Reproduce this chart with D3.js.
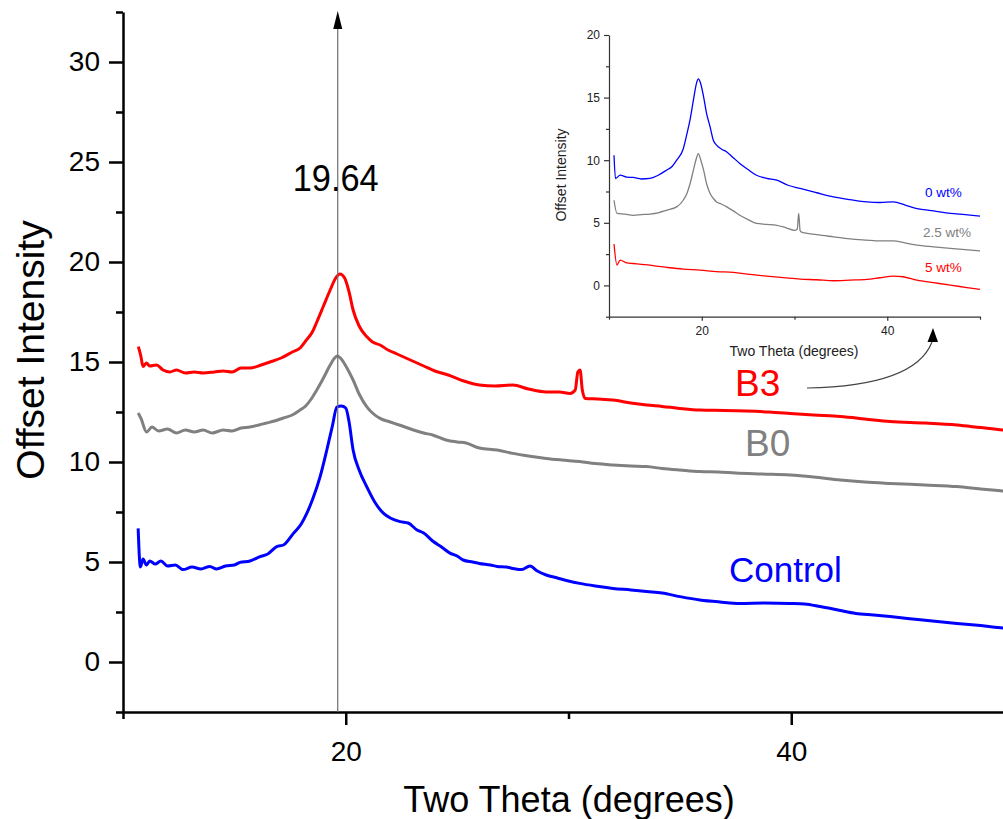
<!DOCTYPE html>
<html>
<head>
<meta charset="utf-8">
<script src="https://cdn.jsdelivr.net/npm/d3@7"></script>
<style>
  html, body { margin: 0; padding: 0; background: #ffffff; }
  svg { display: block; }
  text { font-family: "Liberation Sans", Arial, sans-serif; }
</style>
</head>
<body>
<svg id="chart" width="1003" height="819"></svg>
<script>
// ---------------- DATA ----------------
// Main plot: [two theta (deg), offset intensity]
const controlData = [[10.68,6.68],[10.78,4.75],[10.9,5.15],[11.05,4.85],[11.2,5.05],[11.45,4.9],[11.7,5.05],[12.0,4.8],[12.35,4.85],[12.7,4.62],[13.1,4.75],[13.5,4.65],[13.9,4.78],[14.2,4.65],[14.6,4.8],[15.0,4.85],[15.25,4.98],[15.7,5.05],[16.15,5.27],[16.5,5.4],[16.9,5.77],[17.2,5.85],[17.65,6.43],[18.0,6.9],[18.25,7.43],[18.5,8.1],[18.85,9.27],[19.15,10.6],[19.4,11.8],[19.6,12.75],[19.8,12.8],[20.0,12.7],[20.15,12.0],[20.33,10.6],[20.6,9.6],[20.94,8.77],[21.3,8.0],[21.7,7.43],[22.0,7.2],[22.44,7.02],[22.8,6.95],[23.2,6.6],[23.5,6.45],[23.9,6.05],[24.3,5.75],[24.7,5.43],[25.0,5.3],[25.27,5.1],[25.7,5.0],[26.0,4.93],[26.5,4.85],[26.8,4.78],[27.2,4.75],[27.5,4.68],[27.9,4.62],[28.27,4.8],[28.6,4.55],[29.0,4.35],[29.5,4.2],[30.0,4.05],[30.5,3.93],[31.2,3.8],[32.0,3.68],[32.8,3.6],[33.5,3.52],[34.2,3.45],[35.0,3.27],[35.9,3.1],[36.8,3.0],[37.7,2.93],[38.8,2.95],[39.95,2.93],[40.6,2.9],[41.3,2.77],[42.1,2.6],[42.9,2.43],[43.7,2.35],[44.44,2.27],[45.9,2.1],[47.44,1.93],[48.5,1.82],[49.5,1.7],[50.0,1.65]];
const b0Data = [[10.68,12.45],[10.8,12.2],[11.06,11.5],[11.3,11.75],[11.6,11.55],[12.0,11.65],[12.4,11.45],[12.8,11.6],[13.2,11.5],[13.6,11.6],[14.0,11.45],[14.5,11.6],[14.9,11.55],[15.3,11.7],[15.7,11.75],[16.1,11.85],[16.45,11.95],[16.8,12.05],[17.2,12.2],[17.6,12.35],[17.95,12.6],[18.2,12.8],[18.45,13.15],[18.7,13.6],[19.0,14.2],[19.3,14.85],[19.5,15.2],[19.62,15.3],[19.8,15.15],[19.95,14.9],[20.15,14.5],[20.33,14.1],[20.6,13.4],[20.94,12.77],[21.2,12.45],[21.54,12.18],[22.0,12.0],[22.4,11.85],[23.04,11.6],[23.5,11.45],[23.9,11.35],[24.5,11.1],[25.0,11.0],[25.4,10.95],[26.0,10.7],[26.8,10.6],[27.5,10.43],[28.2,10.3],[29.0,10.18],[29.7,10.1],[30.5,10.02],[31.2,9.92],[32.0,9.85],[32.8,9.8],[33.5,9.77],[34.2,9.68],[35.0,9.6],[35.9,9.52],[36.7,9.5],[37.5,9.45],[38.7,9.4],[39.95,9.35],[41.0,9.25],[42.2,9.1],[43.3,9.0],[44.44,8.93],[46.0,8.85],[47.44,8.77],[48.5,8.65],[49.5,8.55],[50.0,8.5]];
const b3Data = [[10.69,15.77],[10.8,15.3],[10.9,14.77],[11.05,14.95],[11.2,14.8],[11.5,14.85],[11.8,14.6],[12.1,14.5],[12.4,14.6],[12.8,14.45],[13.2,14.5],[13.6,14.45],[14.1,14.5],[14.5,14.55],[14.9,14.5],[15.3,14.7],[15.7,14.7],[16.2,14.85],[16.6,15.0],[17.1,15.2],[17.6,15.5],[17.95,15.7],[18.2,16.05],[18.5,16.5],[18.7,17.0],[19.0,17.8],[19.3,18.6],[19.55,19.2],[19.74,19.4],[19.95,19.2],[20.15,18.5],[20.33,17.6],[20.6,16.8],[20.94,16.27],[21.2,16.0],[21.54,15.85],[21.9,15.6],[22.3,15.4],[22.7,15.2],[23.1,15.0],[23.5,14.8],[24.0,14.55],[24.6,14.35],[25.3,14.05],[26.0,13.85],[26.7,13.8],[27.5,13.85],[28.2,13.65],[29.0,13.5],[29.6,13.5],[30.07,13.43],[30.3,13.6],[30.42,14.5],[30.52,14.6],[30.62,13.6],[30.75,13.18],[31.3,13.15],[32.0,13.1],[32.8,12.95],[33.5,12.85],[34.2,12.78],[35.0,12.68],[35.9,12.6],[37.0,12.58],[38.0,12.55],[39.0,12.5],[39.95,12.43],[41.0,12.35],[42.2,12.27],[43.3,12.15],[44.44,12.02],[46.0,11.95],[47.44,11.85],[48.5,11.72],[49.5,11.6],[50.0,11.55]];

// Inset: [two theta (deg), offset intensity]
const inset0Data = [[10.54,10.4],[10.7,8.54],[11.2,8.8],[11.9,8.65],[12.6,8.62],[13.5,8.5],[14.4,8.54],[15.3,8.8],[16.2,9.2],[16.8,9.5],[17.3,10.0],[18.0,10.9],[18.4,12.1],[18.73,13.2],[19.1,14.8],[19.45,16.2],[19.63,16.5],[19.85,16.2],[20.2,15.05],[20.53,13.7],[20.9,12.66],[21.25,11.6],[21.6,11.2],[22.1,10.9],[22.7,10.66],[23.4,10.2],[24.1,9.74],[25.0,9.25],[25.9,8.8],[27.0,8.55],[28.1,8.4],[29.3,8.0],[30.6,7.74],[32.4,7.4],[34.2,7.07],[36.0,6.85],[37.8,6.67],[39.2,6.62],[40.65,6.67],[42.0,6.4],[43.2,6.14],[45.0,5.95],[46.8,5.75],[48.4,5.65],[50.0,5.53]];
const inset25Data = [[10.54,6.8],[10.86,5.75],[11.7,5.7],[12.6,5.6],[13.5,5.65],[14.4,5.7],[15.3,5.8],[16.2,6.0],[17.3,6.27],[18.0,6.8],[18.4,7.34],[18.73,8.1],[19.1,9.2],[19.4,10.1],[19.63,10.53],[19.9,10.0],[20.2,9.2],[20.53,8.1],[20.9,7.34],[21.25,6.94],[21.6,6.67],[22.1,6.5],[22.7,6.27],[23.4,5.95],[24.1,5.6],[25.0,5.25],[25.9,4.95],[27.0,4.88],[28.1,4.8],[29.1,4.6],[30.05,4.4],[30.3,4.5],[30.45,5.75],[30.6,4.4],[30.7,4.28],[32.4,4.05],[34.2,3.88],[36.0,3.72],[37.8,3.62],[39.2,3.55],[40.65,3.56],[42.0,3.38],[43.2,3.22],[45.0,3.08],[46.8,2.95],[48.4,2.85],[50.0,2.76]];
const inset5Data = [[10.54,3.3],[10.86,1.62],[11.2,2.02],[11.9,1.8],[12.6,1.75],[13.5,1.68],[14.4,1.62],[15.3,1.52],[16.2,1.44],[18.0,1.3],[19.8,1.22],[21.6,1.1],[23.4,1.04],[25.2,0.88],[27.0,0.74],[28.8,0.62],[30.6,0.5],[32.4,0.45],[34.2,0.37],[36.0,0.42],[37.8,0.48],[39.2,0.61],[40.65,0.74],[41.7,0.69],[43.2,0.42],[45.0,0.22],[46.8,0.02],[48.4,-0.15],[50.0,-0.32]];

const mainXTicks = [20, 40];
const mainXMinor = [10, 30, 50];
const mainYTicks = [0, 5, 10, 15, 20, 25, 30];
const mainYMinor = [-2.5, 2.5, 7.5, 12.5, 17.5, 22.5, 27.5, 32.5];
const insetXTicks = [20, 40];
const insetXMinor = [10, 30, 50];
const insetYTicks = [0, 5, 10, 15, 20];
const insetYMinor = [-2.5, 2.5, 7.5, 12.5, 17.5];
const peakPosition = 19.64;
const peakLabel = "19.64";
const mainLabels = ["B3", "B0", "Control"];
const insetLabels = ["0 wt%", "2.5 wt%", "5 wt%"];
const xTitle = "Two Theta (degrees)";
const yTitle = "Offset Intensity";

// ---------------- DRAWING ----------------
const svg = d3.select("#chart");
const RED = "#ff0000", GRAY = "#808080", BLUE = "#0000ff";
const FONT = "'Liberation Sans', Arial, sans-serif";

// main scales
const x = d3.scaleLinear().domain([10, 50]).range([123, 1014]);
const y = d3.scaleLinear().domain([-2.5, 32.5]).range([712, 12]);

svg.append("defs").append("clipPath").attr("id", "mainClip")
  .append("rect").attr("x", 123).attr("y", 0).attr("width", 900).attr("height", 712);

const line = d3.line().x(d => x(d[0])).y(d => y(d[1])).curve(d3.curveMonotoneX);
const plot = svg.append("g").attr("clip-path", "url(#mainClip)");
[[b3Data, RED], [b0Data, GRAY], [controlData, BLUE]].forEach(([data, c]) => {
  plot.append("path").datum(data).attr("d", line)
    .attr("fill", "none").attr("stroke", c).attr("stroke-width", 3)
    .attr("stroke-linejoin", "round");
});

// axes
function styleAxis(g, w) {
  g.select(".domain").attr("stroke", "#000").attr("stroke-width", w);
  g.selectAll(".tick line").attr("stroke", "#000").attr("stroke-width", w);
}
const yMajor = svg.append("g").attr("transform", "translate(123,0)")
  .call(d3.axisLeft(y).tickValues(mainYTicks).tickSize(14).tickPadding(9).tickSizeOuter(0));
styleAxis(yMajor, 2.5);
yMajor.selectAll("text").attr("font-size", 28).attr("fill", "#000").attr("font-family", FONT);
const yMin = svg.append("g").attr("transform", "translate(123,0)")
  .call(d3.axisLeft(y).tickValues(mainYMinor).tickSize(7).tickFormat("").tickSizeOuter(0));
styleAxis(yMin, 2.5);
yMin.select(".domain").remove();

const xMajor = svg.append("g").attr("transform", "translate(0,712)")
  .call(d3.axisBottom(x).tickValues(mainXTicks).tickSize(13).tickPadding(16).tickSizeOuter(0));
styleAxis(xMajor, 2.5);
xMajor.selectAll("text").attr("font-size", 28).attr("fill", "#000").attr("font-family", FONT);
const xMin = svg.append("g").attr("transform", "translate(0,712)")
  .call(d3.axisBottom(x).tickValues(mainXMinor).tickSize(7).tickFormat("").tickSizeOuter(0));
styleAxis(xMin, 2.5);
xMin.select(".domain").remove();

// axis titles
svg.append("text").attr("x", 569).attr("y", 812).attr("text-anchor", "middle")
  .attr("font-size", 36).attr("fill", "#000").text(xTitle);
svg.append("text").attr("transform", "translate(44,350) rotate(-90)").attr("text-anchor", "middle")
  .attr("font-size", 39).attr("fill", "#000").text(yTitle);

// peak marker arrow
svg.append("line").attr("x1", x(peakPosition)).attr("x2", x(peakPosition))
  .attr("y1", 712).attr("y2", 26).attr("stroke", "#6e6e6e").attr("stroke-width", 1.2);
svg.append("path")
  .attr("d", `M${x(peakPosition) - 4.5},29 L${x(peakPosition)},11 L${x(peakPosition) + 4.5},29 Z`)
  .attr("fill", "#000");
svg.append("text").attr("x", x(peakPosition) - 2).attr("y", 191).attr("text-anchor", "middle")
  .attr("font-size", 37).attr("textLength", 86).attr("lengthAdjust", "spacingAndGlyphs")
  .attr("fill", "#000").text(peakLabel);

// series labels
svg.append("text").attr("x", 735).attr("y", 396).attr("font-size", 37).attr("fill", RED).text(mainLabels[0]);
svg.append("text").attr("x", 745).attr("y", 456).attr("font-size", 37).attr("fill", GRAY).text(mainLabels[1]);
svg.append("text").attr("x", 729).attr("y", 582).attr("font-size", 35).attr("fill", BLUE).text(mainLabels[2]);

// ---------------- INSET ----------------
const ix = d3.scaleLinear().domain([10, 50]).range([609, 980]);
const iy = d3.scaleLinear().domain([-2.5, 20]).range([316.7, 35]);
const iline = d3.line().x(d => ix(d[0])).y(d => iy(d[1])).curve(d3.curveMonotoneX);
const inset = svg.append("g");
[[inset0Data, BLUE], [inset25Data, GRAY], [inset5Data, RED]].forEach(([data, c]) => {
  inset.append("path").datum(data).attr("d", iline)
    .attr("fill", "none").attr("stroke", c).attr("stroke-width", 1.3)
    .attr("stroke-linejoin", "round");
});
function styleInset(g) {
  g.select(".domain").attr("stroke", "#333").attr("stroke-width", 1.2);
  g.selectAll(".tick line").attr("stroke", "#333").attr("stroke-width", 1.2);
  g.selectAll("text").attr("font-size", 12).attr("fill", "#222").attr("font-family", FONT);
}
const iyMaj = inset.append("g").attr("transform", "translate(609,0)")
  .call(d3.axisLeft(iy).tickValues(insetYTicks).tickSize(5).tickPadding(4).tickSizeOuter(0));
styleInset(iyMaj);
const iyMin = inset.append("g").attr("transform", "translate(609,0)")
  .call(d3.axisLeft(iy).tickValues(insetYMinor).tickSize(3).tickFormat("").tickSizeOuter(0));
styleInset(iyMin); iyMin.select(".domain").remove();
const ixMaj = inset.append("g").attr("transform", "translate(0,316.7)")
  .call(d3.axisBottom(ix).tickValues(insetXTicks).tickSize(4).tickPadding(6).tickSizeOuter(0));
styleInset(ixMaj);
const ixMin = inset.append("g").attr("transform", "translate(0,316.7)")
  .call(d3.axisBottom(ix).tickValues(insetXMinor).tickSize(3).tickFormat("").tickSizeOuter(0));
styleInset(ixMin); ixMin.select(".domain").remove();

inset.append("text").attr("x", 794).attr("y", 356).attr("text-anchor", "middle")
  .attr("font-size", 14).attr("fill", "#222").text(xTitle);
inset.append("text").attr("transform", "translate(566,175) rotate(-90)").attr("text-anchor", "middle")
  .attr("font-size", 14).attr("fill", "#222").text(yTitle);

inset.append("text").attr("x", 925).attr("y", 197).attr("font-size", 13.5).attr("fill", BLUE).text(insetLabels[0]);
inset.append("text").attr("x", 923).attr("y", 236.5).attr("font-size", 13.5).attr("fill", GRAY).text(insetLabels[1]);
inset.append("text").attr("x", 925).attr("y", 271.5).attr("font-size", 13.5).attr("fill", RED).text(insetLabels[2]);

// curved pointer from B3 to inset
svg.append("path").attr("d", "M807,388 Q915,386 932,342")
  .attr("fill", "none").attr("stroke", "#444").attr("stroke-width", 1.2);
svg.append("path").attr("d", "M927.5,342 L933,328 L938,342 Z").attr("fill", "#000");
</script>
</body>
</html>
